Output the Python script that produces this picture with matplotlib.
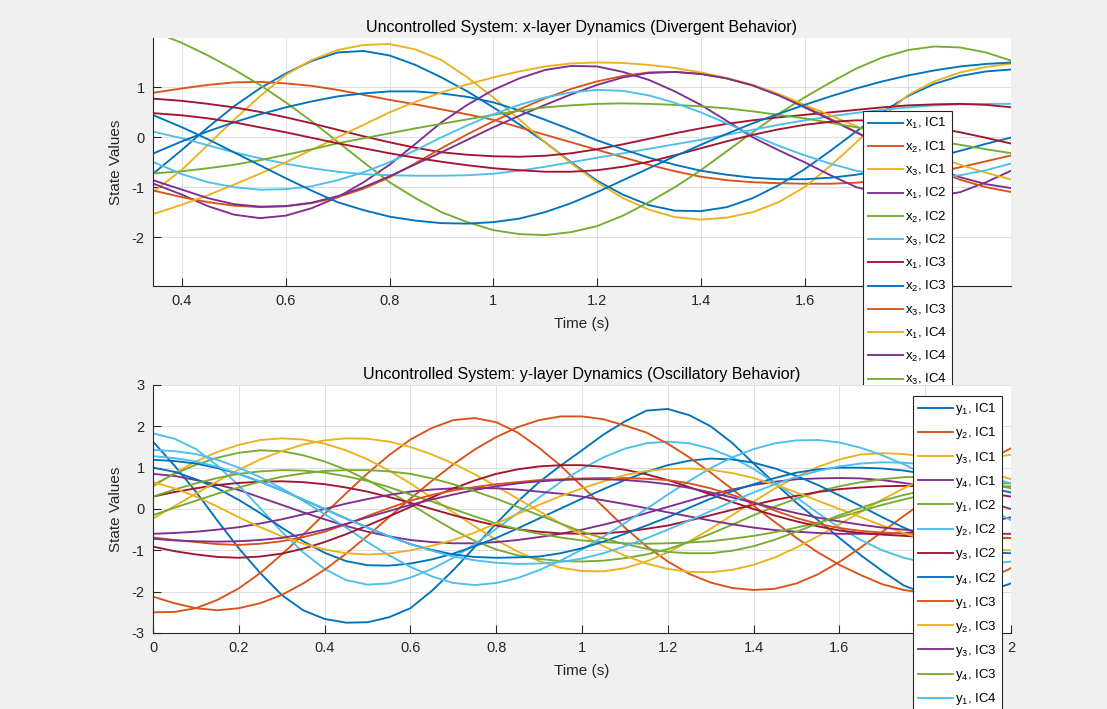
import matplotlib
matplotlib.use('Agg')
import matplotlib.pyplot as plt

plt.rcParams['font.family'] = ['Liberation Sans', 'DejaVu Sans']
plt.rcParams['mathtext.fontset'] = 'custom'
plt.rcParams['mathtext.rm'] = 'Liberation Sans'
plt.rcParams['mathtext.it'] = 'Liberation Sans:italic'
plt.rcParams['axes.unicode_minus'] = False

# time grids (s)
t_x = [0.3, 0.35, 0.4, 0.45, 0.5, 0.55, 0.6, 0.65, 0.7, 0.75, 0.8, 0.85, 0.9, 0.95, 1.0, 1.05, 1.1,
       1.15, 1.2, 1.25, 1.3, 1.35, 1.4, 1.45, 1.5, 1.55, 1.6, 1.65, 1.7, 1.75, 1.8, 1.85, 1.9, 1.95, 2.0]
t_y = [0.0, 0.05, 0.1, 0.15, 0.2, 0.25] + t_x

# x-layer states
x1_ic1 = [-1.05, -0.68, -0.25, 0.2, 0.62, 0.98, 1.28, 1.53, 1.7, 1.73, 1.64, 1.45, 1.2, 0.92, 0.6, 0.26, -0.1,
          -0.5, -0.87, -1.15, -1.36, -1.47, -1.48, -1.4, -1.22, -0.96, -0.64, -0.27, 0.12, 0.5, 0.83, 1.07, 1.23, 1.32, 1.36]
x2_ic1 = [0.82, 0.9, 0.98, 1.05, 1.1, 1.11, 1.08, 1.03, 0.95, 0.85, 0.75, 0.66, 0.56, 0.46, 0.35, 0.2, 0.05,
          -0.1, -0.25, -0.4, -0.55, -0.68, -0.79, -0.86, -0.9, -0.92, -0.93, -0.93, -0.91, -0.86, -0.8, -0.71, -0.6, -0.48, -0.36]
x3_ic1 = [-1.4, -1.05, -0.65, -0.15, 0.35, 0.82, 1.25, 1.55, 1.75, 1.85, 1.87, 1.76, 1.55, 1.2, 0.8, 0.36, -0.1,
          -0.52, -0.9, -1.22, -1.45, -1.6, -1.65, -1.61, -1.5, -1.3, -1.0, -0.57, -0.1, 0.4, 0.85, 1.12, 1.3, 1.41, 1.48]
x1_ic2 = [-0.75, -0.95, -1.15, -1.38, -1.55, -1.62, -1.57, -1.42, -1.2, -0.9, -0.55, -0.13, 0.3, 0.65, 0.95, 1.18, 1.35,
          1.43, 1.42, 1.31, 1.15, 0.92, 0.65, 0.33, 0.0, -0.26, -0.5, -0.76, -1.0, -1.13, -1.2, -1.18, -1.1, -0.9, -0.66]
x2_ic2 = [2.3, 2.1, 1.89, 1.64, 1.36, 1.05, 0.7, 0.32, -0.09, -0.5, -0.9, -1.22, -1.5, -1.7, -1.86, -1.94, -1.96,
          -1.9, -1.78, -1.57, -1.3, -1.0, -0.66, -0.28, 0.1, 0.47, 0.8, 1.1, 1.38, 1.6, 1.75, 1.82, 1.8, 1.7, 1.53]
x3_ic2 = [0.2, 0.1, -0.02, -0.16, -0.3, -0.42, -0.53, -0.62, -0.69, -0.74, -0.76, -0.77, -0.77, -0.76, -0.73, -0.67, -0.59,
          -0.5, -0.41, -0.32, -0.23, -0.14, -0.05, 0.05, 0.15, 0.25, 0.34, 0.42, 0.49, 0.55, 0.6, 0.64, 0.66, 0.67, 0.67]
x1_ic3 = [0.8, 0.77, 0.73, 0.67, 0.6, 0.51, 0.4, 0.28, 0.15, 0.02, -0.1, -0.21, -0.3, -0.35, -0.38, -0.39, -0.37,
          -0.32, -0.24, -0.14, -0.03, 0.08, 0.18, 0.27, 0.34, 0.4, 0.45, 0.5, 0.55, 0.6, 0.64, 0.66, 0.67, 0.65, 0.6]
x2_ic3 = [-0.52, -0.3, -0.08, 0.12, 0.3, 0.46, 0.6, 0.72, 0.82, 0.88, 0.92, 0.92, 0.88, 0.81, 0.7, 0.54, 0.35,
          0.15, -0.06, -0.24, -0.41, -0.55, -0.67, -0.75, -0.81, -0.84, -0.84, -0.81, -0.75, -0.66, -0.54, -0.41, -0.27, -0.13, 0.0]
x3_ic3 = [-0.95, -1.08, -1.2, -1.3, -1.37, -1.4, -1.38, -1.32, -1.2, -1.03, -0.8, -0.52, -0.22, 0.06, 0.32, 0.56, 0.78,
          0.97, 1.12, 1.23, 1.3, 1.31, 1.27, 1.18, 1.04, 0.85, 0.62, 0.37, 0.1, -0.16, -0.42, -0.65, -0.85, -1.0, -1.1]
x1_ic4 = [-1.65, -1.52, -1.35, -1.16, -0.95, -0.73, -0.5, -0.25, 0.0, 0.25, 0.5, 0.71, 0.9, 1.06, 1.2, 1.32, 1.42,
          1.48, 1.5, 1.49, 1.45, 1.39, 1.3, 1.19, 1.05, 0.87, 0.65, 0.44, 0.22, 0.02, -0.18, -0.37, -0.55, -0.71, -0.85]
x2_ic4 = [-0.7, -0.88, -1.05, -1.22, -1.34, -1.39, -1.38, -1.31, -1.18, -1.0, -0.78, -0.54, -0.3, -0.05, 0.2, 0.43, 0.65,
          0.86, 1.05, 1.2, 1.29, 1.31, 1.27, 1.18, 1.04, 0.84, 0.6, 0.35, 0.1, -0.16, -0.4, -0.62, -0.8, -0.94, -1.02]
x3_ic4 = [-0.76, -0.72, -0.68, -0.62, -0.55, -0.46, -0.35, -0.24, -0.12, -0.02, 0.08, 0.18, 0.27, 0.36, 0.45, 0.53, 0.6,
          0.64, 0.67, 0.68, 0.67, 0.65, 0.62, 0.58, 0.52, 0.45, 0.38, 0.29, 0.2, 0.11, 0.02, -0.07, -0.15, -0.24, -0.32]
x1_ic5 = [-0.28, -0.52, -0.74, -0.9, -1.0, -1.05, -1.04, -0.98, -0.86, -0.7, -0.5, -0.26, 0.0, 0.24, 0.46, 0.65, 0.8,
          0.9, 0.95, 0.93, 0.84, 0.69, 0.5, 0.28, 0.05, -0.17, -0.36, -0.53, -0.67, -0.76, -0.81, -0.81, -0.76, -0.66, -0.52]
x2_ic5 = [0.5, 0.48, 0.44, 0.38, 0.3, 0.2, 0.1, -0.01, -0.12, -0.22, -0.32, -0.41, -0.49, -0.56, -0.62, -0.66, -0.69,
          -0.69, -0.66, -0.59, -0.49, -0.36, -0.22, -0.08, 0.05, 0.16, 0.25, 0.31, 0.34, 0.33, 0.28, 0.2, 0.1, -0.01, -0.13]
x3_ic5 = [0.6, 0.42, 0.2, -0.04, -0.3, -0.56, -0.82, -1.07, -1.3, -1.46, -1.59, -1.67, -1.72, -1.73, -1.7, -1.63, -1.5,
          -1.32, -1.1, -0.86, -0.62, -0.38, -0.15, 0.07, 0.28, 0.47, 0.65, 0.82, 0.98, 1.12, 1.24, 1.34, 1.42, 1.47, 1.5]

# y-layer states
y1_ic1 = [1.63, 1.05, 0.42, -0.28, -0.95, -1.55, -2.08, -2.45, -2.66, -2.75, -2.74, -2.62, -2.4, -1.98, -1.48, -0.92,
          -0.35, 0.18, 0.65, 1.05, 1.42, 1.8, 2.12, 2.38, 2.42, 2.27, 2.0, 1.6, 1.1, 0.62, 0.15, -0.27, -0.7, -1.12,
          -1.5, -1.85, -2.05, -2.12, -2.1, -1.98, -1.8]
y2_ic1 = [-2.5, -2.49, -2.4, -2.2, -1.92, -1.55, -1.1, -0.62, -0.12, 0.38, 0.86, 1.3, 1.68, 1.96, 2.15, 2.2, 2.1,
          1.85, 1.48, 1.05, 0.55, 0.05, -0.45, -0.9, -1.27, -1.57, -1.78, -1.91, -1.96, -1.93, -1.8, -1.58, -1.28,
          -0.93, -0.55, -0.17, 0.2, 0.55, 0.88, 1.2, 1.47]
y3_ic1 = [0.54, 0.87, 1.15, 1.38, 1.55, 1.67, 1.71, 1.68, 1.58, 1.42, 1.2, 0.93, 0.62, 0.27, -0.08, -0.42, -0.75,
          -1.03, -1.26, -1.42, -1.5, -1.51, -1.43, -1.27, -1.05, -0.78, -0.48, -0.15, 0.18, 0.5, 0.78, 1.02, 1.2,
          1.32, 1.35, 1.33, 1.26, 1.15, 1.02, 0.88, 0.72]
y4_ic1 = [0.85, 0.8, 0.7, 0.59, 0.46, 0.28, 0.1, -0.08, -0.25, -0.41, -0.55, -0.66, -0.75, -0.8, -0.83, -0.83, -0.8,
          -0.75, -0.68, -0.6, -0.5, -0.38, -0.25, -0.1, 0.05, 0.2, 0.35, 0.47, 0.58, 0.66, 0.72, 0.74, 0.75, 0.74,
          0.7, 0.63, 0.55, 0.43, 0.3, 0.15, 0.0]
y1_ic2 = [0.58, 0.85, 1.07, 1.24, 1.36, 1.42, 1.4, 1.3, 1.15, 0.95, 0.7, 0.42, 0.12, -0.2, -0.5, -0.77, -0.98,
          -1.12, -1.21, -1.26, -1.27, -1.25, -1.19, -1.1, -0.97, -0.8, -0.6, -0.38, -0.15, 0.06, 0.25, 0.42, 0.55,
          0.65, 0.72, 0.77, 0.78, 0.75, 0.7, 0.61, 0.5]
y2_ic2 = [1.83, 1.7, 1.45, 1.05, 0.57, 0.02, -0.55, -1.05, -1.45, -1.72, -1.83, -1.8, -1.66, -1.45, -1.18, -0.85,
          -0.48, -0.1, 0.28, 0.65, 0.97, 1.25, 1.46, 1.59, 1.63, 1.59, 1.46, 1.25, 0.97, 0.63, 0.28, -0.1, -0.45,
          -0.75, -1.0, -1.18, -1.3, -1.36, -1.37, -1.33, -1.27]
y3_ic2 = [0.3, 0.41, 0.5, 0.58, 0.63, 0.66, 0.67, 0.65, 0.6, 0.52, 0.42, 0.29, 0.15, 0.0, -0.15, -0.28, -0.4,
          -0.49, -0.55, -0.59, -0.6, -0.59, -0.55, -0.48, -0.4, -0.28, -0.15, -0.02, 0.1, 0.22, 0.32, 0.41, 0.48,
          0.52, 0.55, 0.56, 0.55, 0.51, 0.45, 0.38, 0.3]
y4_ic2 = [1.0, 0.9, 0.72, 0.5, 0.22, -0.1, -0.45, -0.78, -1.06, -1.26, -1.36, -1.37, -1.32, -1.22, -1.08, -0.9,
          -0.7, -0.47, -0.23, 0.01, 0.25, 0.48, 0.7, 0.9, 1.06, 1.17, 1.22, 1.2, 1.12, 0.98, 0.8, 0.58, 0.33, 0.07,
          -0.2, -0.45, -0.67, -0.85, -0.98, -1.05, -1.07]
y1_ic3 = [-2.12, -2.28, -2.4, -2.45, -2.4, -2.28, -2.08, -1.8, -1.47, -1.08, -0.65, -0.2, 0.25, 0.68, 1.08, 1.44,
          1.74, 1.98, 2.15, 2.24, 2.24, 2.17, 2.02, 1.85, 1.58, 1.25, 0.88, 0.48, 0.08, -0.32, -0.7, -1.05, -1.35,
          -1.6, -1.82, -1.96, -2.03, -2.0, -1.88, -1.68, -1.43]
y2_ic3 = [-0.23, 0.07, 0.37, 0.67, 0.95, 1.2, 1.4, 1.56, 1.66, 1.71, 1.7, 1.63, 1.5, 1.32, 1.1, 0.84, 0.55, 0.25,
          -0.05, -0.35, -0.63, -0.9, -1.13, -1.32, -1.45, -1.52, -1.53, -1.47, -1.35, -1.17, -0.93, -0.66, -0.37,
          -0.07, 0.23, 0.5, 0.75, 0.96, 1.13, 1.25, 1.31]
y3_ic3 = [-0.6, -0.58, -0.55, -0.5, -0.44, -0.35, -0.25, -0.13, 0.0, 0.13, 0.24, 0.34, 0.42, 0.47, 0.5, 0.51, 0.5,
          0.47, 0.42, 0.37, 0.3, 0.21, 0.12, 0.02, -0.08, -0.18, -0.28, -0.37, -0.45, -0.51, -0.55, -0.58, -0.6,
          -0.6, -0.6, -0.58, -0.55, -0.49, -0.41, -0.31, -0.2]
y4_ic3 = [0.3, 0.47, 0.62, 0.75, 0.85, 0.91, 0.94, 0.93, 0.88, 0.79, 0.68, 0.53, 0.35, 0.18, 0.0, -0.18, -0.35,
          -0.49, -0.6, -0.69, -0.76, -0.8, -0.83, -0.84, -0.83, -0.81, -0.78, -0.72, -0.65, -0.56, -0.45, -0.33,
          -0.2, -0.05, 0.1, 0.23, 0.35, 0.44, 0.5, 0.54, 0.55]
y1_ic4 = [1.43, 1.4, 1.33, 1.19, 1.0, 0.77, 0.5, 0.2, -0.12, -0.45, -0.8, -1.12, -1.4, -1.63, -1.79, -1.84, -1.79,
          -1.67, -1.48, -1.25, -0.98, -0.67, -0.34, 0.0, 0.35, 0.68, 0.99, 1.25, 1.45, 1.59, 1.66, 1.67, 1.61, 1.48,
          1.3, 1.08, 0.83, 0.56, 0.28, 0.0, -0.27]
y2_ic4 = [-0.91, -1.02, -1.1, -1.16, -1.18, -1.15, -1.08, -0.96, -0.8, -0.61, -0.4, -0.18, 0.05, 0.28, 0.5, 0.69,
          0.85, 0.96, 1.03, 1.06, 1.06, 1.02, 0.95, 0.84, 0.7, 0.53, 0.35, 0.17, 0.0, -0.16, -0.3, -0.42, -0.52,
          -0.58, -0.62, -0.65, -0.68, -0.69, -0.7, -0.7, -0.7]
y3_ic4 = [1.19, 1.16, 1.1, 0.99, 0.85, 0.66, 0.45, 0.23, 0.0, -0.23, -0.45, -0.66, -0.85, -0.99, -1.1, -1.16, -1.18,
          -1.17, -1.15, -1.07, -0.95, -0.79, -0.6, -0.4, -0.2, 0.03, 0.25, 0.43, 0.6, 0.75, 0.88, 0.96, 1.0, 1.0,
          0.98, 0.93, 0.85, 0.75, 0.63, 0.51, 0.4]
y4_ic4 = [-0.69, -0.75, -0.8, -0.85, -0.87, -0.84, -0.78, -0.68, -0.55, -0.37, -0.17, 0.02, 0.2, 0.34, 0.45, 0.53,
          0.6, 0.65, 0.7, 0.72, 0.74, 0.75, 0.75, 0.73, 0.7, 0.62, 0.5, 0.34, 0.16, -0.04, -0.22, -0.36, -0.46,
          -0.53, -0.57, -0.6, -0.63, -0.65, -0.67, -0.69, -0.7]
y1_ic5 = [0.65, 0.5, 0.3, 0.06, -0.2, -0.44, -0.66, -0.84, -0.98, -1.07, -1.1, -1.08, -1.0, -0.89, -0.75, -0.57,
          -0.35, -0.12, 0.1, 0.31, 0.5, 0.67, 0.82, 0.92, 0.97, 0.98, 0.95, 0.87, 0.75, 0.59, 0.4, 0.2, 0.0, -0.2,
          -0.4, -0.58, -0.75, -0.87, -0.95, -0.99, -1.0]
y2_ic5 = [-0.72, -0.76, -0.78, -0.79, -0.78, -0.75, -0.7, -0.61, -0.5, -0.36, -0.2, -0.05, 0.1, 0.23, 0.35, 0.46,
          0.55, 0.62, 0.67, 0.7, 0.72, 0.72, 0.7, 0.66, 0.6, 0.51, 0.4, 0.28, 0.15, 0.02, -0.1, -0.21, -0.3, -0.38,
          -0.45, -0.5, -0.55, -0.58, -0.6, -0.6, -0.6]
y3_ic5 = [-0.15, 0.03, 0.2, 0.37, 0.52, 0.66, 0.78, 0.86, 0.92, 0.94, 0.94, 0.91, 0.85, 0.74, 0.6, 0.43, 0.25, 0.05,
          -0.15, -0.35, -0.55, -0.71, -0.85, -0.96, -1.04, -1.07, -1.07, -1.01, -0.9, -0.74, -0.55, -0.35, -0.15,
          0.03, 0.2, 0.34, 0.45, 0.53, 0.58, 0.61, 0.62]
y4_ic5 = [1.28, 1.23, 1.15, 1.02, 0.85, 0.66, 0.45, 0.23, 0.0, -0.23, -0.45, -0.66, -0.85, -1.01, -1.15, -1.24,
          -1.3, -1.33, -1.32, -1.28, -1.2, -1.07, -0.9, -0.71, -0.5, -0.28, -0.05, 0.18, 0.4, 0.6, 0.78, 0.92, 1.03,
          1.1, 1.13, 1.12, 1.08, 1.0, 0.9, 0.77, 0.62]

x_states = [x1_ic1, x2_ic1, x3_ic1, x1_ic2, x2_ic2, x3_ic2, x1_ic3, x2_ic3, x3_ic3,
            x1_ic4, x2_ic4, x3_ic4, x1_ic5, x2_ic5, x3_ic5]
y_states = [y1_ic1, y2_ic1, y3_ic1, y4_ic1, y1_ic2, y2_ic2, y3_ic2, y4_ic2, y1_ic3, y2_ic3,
            y3_ic3, y4_ic3, y1_ic4, y2_ic4, y3_ic4, y4_ic4, y1_ic5, y2_ic5, y3_ic5, y4_ic5]

x_labels = ['x$_{%d}$, IC%d' % (i % 3 + 1, i // 3 + 1) for i in range(len(x_states))]
y_labels = ['y$_{%d}$, IC%d' % (i % 4 + 1, i // 4 + 1) for i in range(len(y_states))]

colors = ['#0072BD', '#D95319', '#EDB120', '#7E2F8E', '#77AC30', '#4DBEEE', '#A2142F']
dark = '#262626'

W, H = 1107, 709
fig = plt.figure(figsize=(W / 100, H / 100), dpi=100, facecolor='#f0f0f0')
ax1 = fig.add_axes([153 / W, 1 - 286 / H, 858 / W, 248 / H])
ax2 = fig.add_axes([153 / W, 1 - 633 / H, 858 / W, 248 / H])


def style(ax):
    ax.set_facecolor('white')
    for s in ('top', 'right'):
        ax.spines[s].set_visible(False)
    for s in ('left', 'bottom'):
        ax.spines[s].set_color(dark)
        ax.spines[s].set_linewidth(0.8)
    ax.tick_params(direction='in', length=6, width=0.8, color=dark,
                   labelcolor=dark, labelsize=10.5, pad=6)
    ax.grid(True, color='#dfdfdf', linewidth=0.7)
    ax.set_axisbelow(True)
    ax.set_xlabel('Time (s)', fontsize=11, color=dark, labelpad=6)
    ax.set_ylabel('State Values', fontsize=11, color=dark, labelpad=6)


for i, (vals, lab) in enumerate(zip(x_states, x_labels)):
    ax1.plot(t_x, vals, color=colors[i % 7], lw=1.35, label=lab)
ax1.set_xlim(0.344, 1.998)
ax1.set_ylim(-2.98, 1.99)
ax1.set_yticks([-2, -1, 0, 1])
ax1.set_xticks([0.4, 0.6, 0.8, 1.0, 1.2, 1.4, 1.6, 1.8])
ax1.set_xticklabels(['0.4', '0.6', '0.8', '1', '1.2', '1.4', '1.6', '1.8'])
ax1.set_title('Uncontrolled System: x-layer Dynamics (Divergent Behavior)',
              fontsize=11.5, color='black', pad=4.5)
style(ax1)

for i, (vals, lab) in enumerate(zip(y_states, y_labels)):
    ax2.plot(t_y, vals, color=colors[i % 7], lw=1.35, label=lab)
ax2.set_xlim(0, 2)
ax2.set_ylim(-3, 3)
ax2.set_xticks([0, 0.2, 0.4, 0.6, 0.8, 1.0, 1.2, 1.4, 1.6, 1.8, 2.0])
ax2.set_xticklabels(['0', '0.2', '0.4', '0.6', '0.8', '1', '1.2', '1.4', '1.6', '1.8', '2'])
ax2.set_yticks([-3, -2, -1, 0, 1, 2, 3])
ax2.set_title('Uncontrolled System: y-layer Dynamics (Oscillatory Behavior)',
              fontsize=11.5, color='black', pad=4.5)
style(ax2)

leg_kw = dict(loc='upper left', bbox_transform=fig.transFigure, borderaxespad=0,
              fontsize=9.5, fancybox=False, framealpha=1, edgecolor=dark,
              handlelength=2.65, handletextpad=0.12, labelspacing=0.62,
              borderpad=0.4)
l1 = ax1.legend(bbox_to_anchor=(863 / W, 1 - 111 / H), **leg_kw)
l2 = ax2.legend(bbox_to_anchor=(913 / W, 1 - 396 / H), **leg_kw)
for leg in (l1, l2):
    leg.get_frame().set_linewidth(0.8)

fig.savefig('out.png', dpi=100, facecolor=fig.get_facecolor())
